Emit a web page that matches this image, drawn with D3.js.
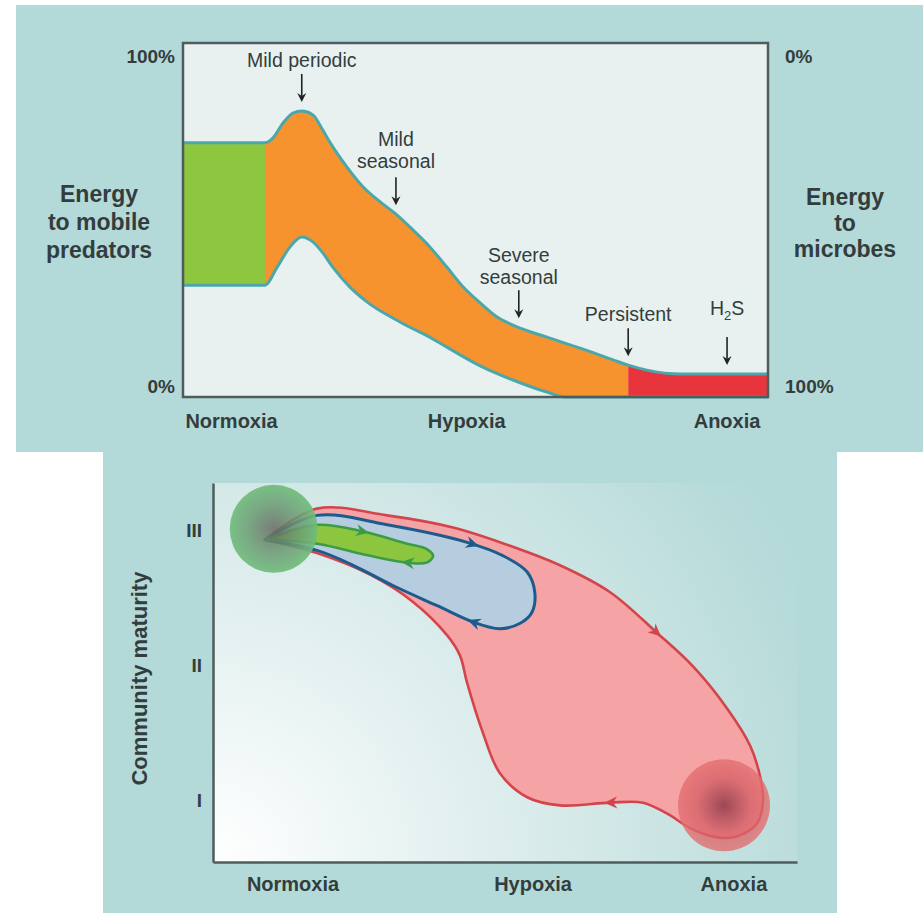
<!DOCTYPE html>
<html lang="en">
<head>
<meta charset="UTF-8">
<title>Hypoxia: energy flow and community maturity</title>
<script src="https://d3js.org/d3.v7.min.js"></script>
<style>
  body { margin: 0; background: #fff; }
  svg { display: block; }
  text { font-family: "Liberation Sans", Arial, sans-serif; fill: #333d3d; }
  .bold { font-weight: bold; }
</style>
</head>
<body>
<svg width="923" height="913"></svg>
<script>
// ---------- data ----------
const oxygenLabels = ["Normoxia", "Hypoxia", "Anoxia"];
const topOxygenX = [8.3, 48.5, 93];
const bottomOxygenX = [13.7, 54.8, 89.2];

// energy band, % energy to mobile predators along the oxygen gradient
const upperEdge = [[0,71.8],[14,71.8],[15.4,73.2],[17.1,77.4],[18.8,80.2],[20.3,80.8],[22.2,79.7],
  [23.9,75.4],[25.1,72.0],[28.0,65.0],[30.8,59.3],[33.7,55.1],[36.6,51.4],[39.3,47.2],[42.2,42.4],
  [45.1,36.7],[47.9,31.1],[50.8,26.6],[53.7,22.6],[56.4,20.3],[62.2,16.9],[67.9,13.8],[73.5,10.5],
  [76.1,9.0],[79.3,7.6],[85,6.5],[100,6.5]];
const lowerEdge = [[0,31.6],[14,31.6],[16.1,36.7],[18.3,42.4],[20.3,45.2],[22.2,43.8],[23.9,40.7],
  [25.6,36.7],[28.5,31.1],[31.5,26.8],[37.1,21.2],[42.7,16.4],[45.1,14.1],[50.8,8.8],[56.4,4.8],
  [62.2,1.4],[65.3,0],[100,0]];
const stageBreaks = [14, 76.1];          // green | orange | red
const stageColors = ["#8dc63f", "#f7932e", "#e8343c"];

const annotationText = [["Mild periodic"], ["Mild", "seasonal"], ["Severe", "seasonal"], ["Persistent"], ["H2S"]];
const annotationX = [20.3, 36.4, 57.4, 76.1, 93.0];

const energyTicks = [0, 100];

// community maturity trajectories (oxygen 0-100, maturity I-III)
const maturityTicks = [1, 2, 3];
const maturityLabels = ["I", "II", "III"];
const greenLoop = [[8.9,2.93],[17.8,3.04],[25.7,2.99],[33.2,2.90],[36.6,2.86],[37.7,2.81],[36.6,2.76],
  [33.2,2.76],[26.9,2.81],[17.8,2.90],[8.9,2.93]];
const blueLoop = [[8.9,2.93],[17.8,3.11],[29.8,3.04],[43.5,2.91],[49.7,2.81],[53.8,2.69],[55.1,2.54],
  [54.6,2.39],[52.6,2.31],[49.1,2.27],[44.5,2.32],[38.4,2.44],[30.8,2.59],[24.0,2.74],[17.8,2.85],[8.9,2.93]];
const redLoop = [[8.9,2.93],[17.8,3.16],[29.8,3.11],[41.1,3.02],[50.5,2.89],[59.4,2.74],[68.0,2.54],
  [76.0,2.24],[82.2,1.99],[88.0,1.68],[92.0,1.40],[93.7,1.17],[94.2,1.00],[93.2,0.83],[89.7,0.73],
  [86.8,0.72],[82.2,0.78],[77.7,0.90],[73.6,0.98],[68.0,0.98],[59.4,0.96],[53.8,1.02],[49.1,1.20],
  [46.2,1.50],[43.5,1.87],[42.3,2.07],[40.1,2.22],[34.2,2.47],[26.9,2.67],[17.8,2.83],[8.9,2.93]];
const loopArrows = [["red",76.0,2.24],["red",68.0,0.98],["blue",44.5,2.90],["blue",44.5,2.32],
  ["green",25.7,2.99],["green",33.2,2.76]];
const normoxiaState = [10.4, 3.01];
const anoxiaState = [87.5, 0.96];

// ---------- layout ----------
const bg = "#b3d9d8";
const svg = d3.select("svg");
const defs = svg.append("defs");

svg.append("rect").attr("x", 16).attr("y", 5).attr("width", 907).attr("height", 447).attr("fill", bg);
svg.append("rect").attr("x", 103).attr("y", 452).attr("width", 734).attr("height", 461).attr("fill", bg);

// ================= top chart =================
const xTop = d3.scaleLinear().domain([0, 100]).range([183, 768]);
const yTop = d3.scaleLinear().domain([0, 100]).range([397, 43]);
const yMicrobes = d3.scaleLinear().domain([0, 100]).range([43, 397]);

const gTop = svg.append("g");
const plotFill = "#e8f1f0";
gTop.append("rect")
    .attr("x", xTop(0)).attr("y", yTop(100))
    .attr("width", xTop(100) - xTop(0)).attr("height", yTop(0) - yTop(100))
    .attr("fill", plotFill);

const underEdge = d3.area()
    .x(d => xTop(d[0])).y0(yTop(0)).y1(d => yTop(d[1]))
    .curve(d3.curveMonotoneX);
const edgeLine = d3.line()
    .x(d => xTop(d[0])).y(d => yTop(d[1]))
    .curve(d3.curveMonotoneX);

const bounds = [0, ...stageBreaks, 100];
stageColors.forEach((c, i) => {
    defs.append("clipPath").attr("id", "stage" + i).append("rect")
        .attr("x", xTop(bounds[i])).attr("y", yTop(100))
        .attr("width", xTop(bounds[i + 1]) - xTop(bounds[i]))
        .attr("height", yTop(0) - yTop(100));
    gTop.append("path").datum(upperEdge)
        .attr("clip-path", `url(#stage${i})`)
        .attr("fill", c)
        .attr("d", underEdge);
});
// cut out the part below the band
gTop.append("path").datum(lowerEdge).attr("fill", plotFill).attr("d", underEdge);

[upperEdge, lowerEdge].forEach(e => {
    gTop.append("path").datum(e)
        .attr("fill", "none").attr("stroke", "#4ba7aa").attr("stroke-width", 3)
        .attr("d", edgeLine);
});

gTop.append("rect")
    .attr("x", xTop(0)).attr("y", yTop(100))
    .attr("width", xTop(100) - xTop(0)).attr("height", yTop(0) - yTop(100))
    .attr("fill", "none").attr("stroke", "#4e5c5c").attr("stroke-width", 2.5);

// percent labels
energyTicks.forEach(v => {
    const py = yTop(v);
    gTop.append("text").attr("class", "bold")
        .attr("x", 175).attr("y", py + (v === 100 ? 20 : -4))
        .attr("text-anchor", "end").attr("font-size", 19)
        .text(v + "%");
    const my = yMicrobes(v);
    gTop.append("text").attr("class", "bold")
        .attr("x", 785).attr("y", my + (v === 0 ? 20 : -4))
        .attr("font-size", 19)
        .text(v + "%");
});

function multiline(g, lines, x, y0, lh, size) {
    const t = g.append("text").attr("class", "bold").attr("text-anchor", "middle").attr("font-size", size);
    lines.forEach((l, i) => t.append("tspan").attr("x", x).attr("y", y0 + i * lh).text(l));
}
multiline(gTop, ["Energy", "to mobile", "predators"], 99, 202, 28, 23);
multiline(gTop, ["Energy", "to", "microbes"], 845, 205, 26, 23);

oxygenLabels.forEach((l, i) => {
    gTop.append("text").attr("class", "bold")
        .attr("x", xTop(topOxygenX[i])).attr("y", 428)
        .attr("text-anchor", "middle").attr("font-size", 20)
        .text(l);
});

// annotation arrows
const upperAt = x => {
    const i = d3.bisector(d => d[0]).right(upperEdge, x);
    const a = upperEdge[Math.max(0, i - 1)], b = upperEdge[Math.min(upperEdge.length - 1, i)];
    if (a === b) return a[1];
    return a[1] + (b[1] - a[1]) * (x - a[0]) / (b[0] - a[0]);
};
const textGap = [7, 9, 6, 7, 22];
annotationText.forEach((lines, i) => {
    const x = xTop(annotationX[i]);
    const tip = yTop(upperAt(annotationX[i])) - 9;
    const tail = tip - 28;
    gTop.append("line").attr("x1", x).attr("x2", x).attr("y1", tail).attr("y2", tip - 6)
        .attr("stroke", "#222").attr("stroke-width", 1.6);
    gTop.append("path")
        .attr("d", `M${x - 4.5},${tip - 9} L${x},${tip} L${x + 4.5},${tip - 9} L${x},${tip - 6} Z`)
        .attr("fill", "#222");
    const base = tail - textGap[i];
    // one text element per annotation, lines as tspans
    const t = gTop.append("text").attr("text-anchor", "middle").attr("font-size", 19.5);
    lines.forEach((l, k) => {
        const yy = base - (lines.length - 1 - k) * 22;
        if (l === "H2S") {
            t.append("tspan").attr("x", x).attr("y", yy).text("H");
            t.append("tspan").attr("font-size", 13).attr("dy", 5).text("2");
            t.append("tspan").attr("dy", -5).text("S");
        } else {
            t.append("tspan").attr("x", x).attr("y", yy).text(l);
        }
    });
});

// ================= bottom chart =================
const xB = d3.scaleLinear().domain([0, 100]).range([213, 797]);
const yB = d3.scaleLinear().domain([0.54, 3.35]).range([862, 483]);
const gB = svg.append("g");

const grad = defs.append("radialGradient").attr("id", "floor")
    .attr("gradientUnits", "userSpaceOnUse")
    .attr("cx", xB(0)).attr("cy", yB(0.54)).attr("r", 660);
grad.append("stop").attr("offset", 0).attr("stop-color", "#ffffff");
grad.append("stop").attr("offset", 0.45).attr("stop-color", "#dcedec");
grad.append("stop").attr("offset", 1).attr("stop-color", bg);
gB.append("rect")
    .attr("x", xB(0)).attr("y", yB(3.35))
    .attr("width", xB(100) - xB(0)).attr("height", yB(0.54) - yB(3.35))
    .attr("fill", "url(#floor)");

const loopLine = d3.line()
    .x(d => xB(d[0])).y(d => yB(d[1]))
    .curve(d3.curveCatmullRom.alpha(0.5));
const loops = {
    red:   { pts: redLoop,   fill: "#f5a3a5", stroke: "#d3454b", w: 2.6 },
    blue:  { pts: blueLoop,  fill: "#b6cde0", stroke: "#1c5b8c", w: 3 },
    green: { pts: greenLoop, fill: "#8cc63f", stroke: "#3b9c48", w: 2.6 }
};
const loopNodes = {};
["red", "blue", "green"].forEach(k => {
    const L = loops[k];
    loopNodes[k] = gB.append("path")
        .attr("d", loopLine(L.pts) + "Z")
        .attr("fill", L.fill)
        .attr("stroke", L.stroke).attr("stroke-width", L.w)
        .attr("stroke-linejoin", "round")
        .node();
});

// direction arrows, placed at the nearest point of each loop
loopArrows.forEach(([k, ax, ay]) => {
    const node = loopNodes[k];
    const len = node.getTotalLength();
    const tx = xB(ax), ty = yB(ay);
    let best = 0, bestD = Infinity;
    for (let s = 0; s <= len; s += 1) {
        const p = node.getPointAtLength(s);
        const d = (p.x - tx) ** 2 + (p.y - ty) ** 2;
        if (d < bestD) { bestD = d; best = s; }
    }
    const p = node.getPointAtLength(best);
    const p0 = node.getPointAtLength(Math.max(0, best - 2));
    const p1 = node.getPointAtLength(Math.min(len, best + 2));
    const ang = Math.atan2(p1.y - p0.y, p1.x - p0.x) * 180 / Math.PI;
    gB.append("path")
        .attr("d", "M6,0 L-7,-6 L-3,0 L-7,6 Z")
        .attr("transform", `translate(${p.x},${p.y}) rotate(${ang})`)
        .attr("fill", loops[k].stroke);
});

// state blobs
const gGreen = defs.append("radialGradient").attr("id", "blobGreen");
gGreen.append("stop").attr("offset", 0).attr("stop-color", "#666a62").attr("stop-opacity", 0.85);
gGreen.append("stop").attr("offset", 0.6).attr("stop-color", "#6a9d73").attr("stop-opacity", 0.85);
gGreen.append("stop").attr("offset", 1).attr("stop-color", "#70bd7b").attr("stop-opacity", 0.92);
const gRed = defs.append("radialGradient").attr("id", "blobRed");
gRed.append("stop").attr("offset", 0).attr("stop-color", "#8c3848").attr("stop-opacity", 0.85);
gRed.append("stop").attr("offset", 0.6).attr("stop-color", "#d45d64").attr("stop-opacity", 0.75);
gRed.append("stop").attr("offset", 1).attr("stop-color", "#e46f70").attr("stop-opacity", 0.8);

gB.append("circle").attr("cx", xB(normoxiaState[0])).attr("cy", yB(normoxiaState[1]))
    .attr("r", 44).attr("fill", "url(#blobGreen)");
gB.append("circle").attr("cx", xB(anoxiaState[0])).attr("cy", yB(anoxiaState[1]))
    .attr("r", 46).attr("fill", "url(#blobRed)");

// axes
const yAxis = gB.append("g")
    .attr("transform", `translate(${xB(0)},0)`)
    .call(d3.axisLeft(yB).tickValues(maturityTicks)
        .tickFormat((d, i) => maturityLabels[i]).tickSize(0).tickPadding(11).tickSizeOuter(0));
const xAxis = gB.append("g")
    .attr("transform", `translate(0,${yB(0.54)})`)
    .call(d3.axisBottom(xB).tickValues([]).tickSizeOuter(0));
[yAxis, xAxis].forEach(a => a.select(".domain").attr("stroke", "#4e5c5c").attr("stroke-width", 2.5));
yAxis.selectAll("text")
    .attr("class", "bold").attr("font-size", 19)
    .attr("font-family", null).attr("fill", null);

gB.append("text").attr("class", "bold")
    .attr("transform", `translate(147,${yB(1.9)}) rotate(-90)`)
    .attr("text-anchor", "middle").attr("font-size", 22)
    .text("Community maturity");

oxygenLabels.forEach((l, i) => {
    gB.append("text").attr("class", "bold")
        .attr("x", xB(bottomOxygenX[i])).attr("y", 891)
        .attr("text-anchor", "middle").attr("font-size", 20)
        .text(l);
});
</script>
</body>
</html>
